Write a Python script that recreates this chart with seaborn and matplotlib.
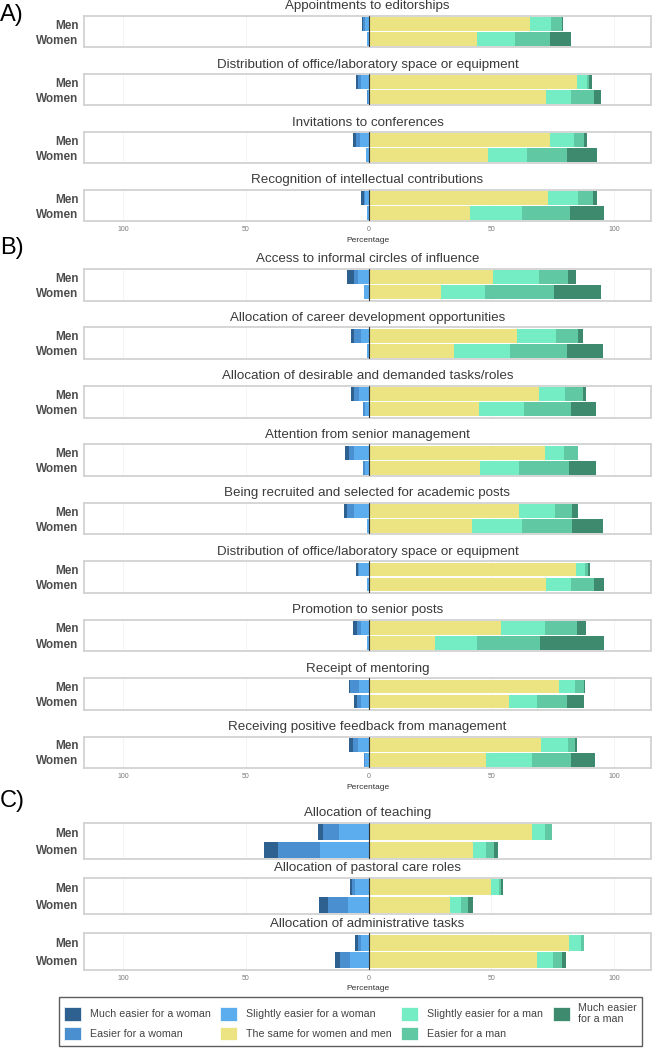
import numpy as np
import matplotlib
matplotlib.use("Agg")
import matplotlib.pyplot as plt
from matplotlib.patches import Patch
import seaborn as sns

# response levels (left = easier for a woman, right = easier for a man)
levels = ["Much easier for a woman", "Easier for a woman", "Slightly easier for a woman",
          "The same for women and men", "Slightly easier for a man", "Easier for a man",
          "Much easier\nfor a man"]
level_colors = ["#2f6190", "#4a90d0", "#5badee", "#ece482", "#74ecc4", "#60c9a4", "#3d8a6e"]
groups = ["Men", "Women"]

titles = [
    # A)
    "Appointments to editorships",
    "Distribution of office/laboratory space or equipment",
    "Invitations to conferences",
    "Recognition of intellectual contributions",
    # B)
    "Access to informal circles of influence",
    "Allocation of career development opportunities",
    "Allocation of desirable and demanded tasks/roles",
    "Attention from senior management",
    "Being recruited and selected for academic posts",
    "Distribution of office/laboratory space or equipment",
    "Promotion to senior posts",
    "Receipt of mentoring",
    "Receiving positive feedback from management",
    # C)
    "Allocation of teaching",
    "Allocation of pastoral care roles",
    "Allocation of administrative tasks",
]
section = ["A"] * 4 + ["B"] * 9 + ["C"] * 3

# percentages, one value per panel (same order as titles)
men_much_w   = [0.6, 0.8, 1.2, 1.0, 2.9, 1.2, 1.4, 1.7, 1.5, 0.6, 1.7, 0.7, 1.7, 2.0, 0.9, 1.0]
men_easier_w = [0.8, 1.0, 1.7, 0.5, 1.9, 2.7, 2.0, 2.0, 2.7, 0.6, 1.7, 3.6, 2.0, 6.5, 1.4, 1.2]
men_slight_w = [1.5, 3.3, 3.4, 1.5, 4.2, 3.2, 4.0, 5.9, 6.0, 3.9, 3.1, 3.9, 4.4, 12.3, 5.4, 3.3]
men_same     = [65.5, 84.8, 73.8, 72.9, 50.6, 60.4, 69.2, 71.7, 61.1, 84.5, 53.7, 77.4, 70.2, 66.4, 49.8, 81.6]
men_slight_m = [8.8, 4.0, 9.8, 12.2, 18.8, 15.9, 10.7, 7.7, 14.9, 3.8, 18.1, 6.8, 10.8, 5.3, 3.4, 4.7]
men_easier_m = [4.4, 1.0, 4.0, 6.1, 11.6, 9.0, 7.2, 5.7, 7.0, 1.2, 12.9, 3.6, 3.2, 2.9, 0.7, 1.6]
men_much_m   = [0.4, 1.0, 1.2, 1.7, 3.6, 1.8, 1.6, 0.3, 2.4, 0.5, 3.9, 0.3, 0.8, 0.0, 0.7, 0.0]

women_much_w   = [0.0, 0.0, 0.0, 0.0, 0.0, 0.0, 0.0, 0.0, 0.0, 0.0, 0.0, 1.0, 0.0, 5.8, 3.6, 2.0]
women_easier_w = [0.0, 0.2, 0.0, 0.3, 0.0, 0.2, 1.0, 1.0, 0.2, 0.2, 0.2, 1.5, 0.5, 16.9, 8.2, 4.4]
women_slight_w = [0.5, 0.4, 1.2, 0.5, 1.9, 0.5, 1.5, 1.5, 0.5, 0.5, 0.5, 3.3, 1.5, 20.0, 8.4, 7.5]
women_same     = [44.3, 72.3, 48.4, 41.3, 29.4, 34.9, 45.0, 45.5, 42.2, 72.3, 27.2, 57.3, 47.8, 42.3, 33.1, 68.4]
women_slight_m = [15.3, 10.2, 15.9, 21.0, 17.8, 22.8, 18.1, 15.6, 20.4, 10.2, 16.8, 11.2, 18.9, 5.3, 4.4, 6.7]
women_easier_m = [14.2, 9.1, 16.4, 19.8, 28.4, 23.0, 19.5, 20.3, 20.4, 9.2, 25.9, 12.3, 15.8, 3.3, 2.8, 3.6]
women_much_m   = [8.8, 3.0, 12.4, 13.7, 19.0, 14.6, 10.0, 11.0, 12.4, 4.0, 25.8, 7.1, 9.5, 1.7, 2.0, 1.5]

men_cols = [men_much_w, men_easier_w, men_slight_w, men_same, men_slight_m, men_easier_m, men_much_m]
women_cols = [women_much_w, women_easier_w, women_slight_w, women_same, women_slight_m, women_easier_m, women_much_m]

sns.set_theme(style="white")
plt.rcParams['font.family'] = ['Liberation Sans', 'DejaVu Sans']

W, H = 655, 1048
fig = plt.figure(figsize=(W / 100, H / 100), dpi=100)

# panel frames in pixels (top, height)
tops = [16, 74, 132, 190] + [269 + 58.45 * k for k in range(9)] + [822.7, 877.7, 933.3]
heights = [31.3] * 4 + [31.6] * 9 + [36.5] * 3
x0, x1 = 84, 651


def draw_panel(ax, i, show_x):
    men = np.array([c[i] for c in men_cols])
    women = np.array([c[i] for c in women_cols])
    vals = np.vstack([men, women])

    # right side: cumulative sums, longest drawn first so shorter ones sit on top
    cum_r = vals[:, 3:].cumsum(axis=1)
    for k in range(3, -1, -1):
        sns.barplot(x=cum_r[:, k], y=groups, color=level_colors[3 + k], orient="h",
                    width=0.92, saturation=1, linewidth=0, errorbar=None, ax=ax)
    # left side: from "slightly" outward
    cum_l = vals[:, 2::-1].cumsum(axis=1)
    for k in range(2, -1, -1):
        sns.barplot(x=-cum_l[:, k], y=groups, color=level_colors[2 - k], orient="h",
                    width=0.92, saturation=1, linewidth=0, errorbar=None, ax=ax)

    ax.axvline(0, color="#333333", lw=0.8, zorder=5)
    ax.set_xlim(-116, 115)
    ax.set_ylim(1.55, -0.55)
    ax.set_xlabel("")
    ax.set_ylabel("")
    ax.set_xticks([-100, -50, 0, 50, 100])
    ax.set_axisbelow(True)
    ax.grid(axis="x", color="#f3f3f3", lw=0.6)
    ax.tick_params(length=0, axis="y", pad=4)
    ax.tick_params(length=0, axis="x", pad=3.5, labelsize=5, labelcolor="#7a7a7a")
    for lab in ax.get_yticklabels():
        lab.set_fontweight("bold")
        lab.set_fontsize(8.5)
        lab.set_color("#4d4d4d")
    if show_x:
        ax.set_xticklabels(["100", "50", "0", "50", "100"])
        ax.set_xlabel("Percentage", fontsize=6, color="#333333", labelpad=2.5)
    else:
        ax.set_xticklabels([])
    for sp in ax.spines.values():
        sp.set_color("#d2d2d2")
        sp.set_linewidth(1.3)


for i, title in enumerate(titles):
    top, h = tops[i], heights[i]
    ax = fig.add_axes([x0 / W, 1 - (top + h) / H, (x1 - x0) / W, h / H])
    last = i == len(titles) - 1 or section[i + 1] != section[i]
    draw_panel(ax, i, last)
    ax.text(0.5, 1 + 9.5 / h, title, transform=ax.transAxes, ha="center", va="center",
            fontsize=9.6, color="#3a3a3a")

# section letters
for lab, y in [("A)", 15), ("B)", 248), ("C)", 801)]:
    fig.text(0.0, 1 - y / H, lab, ha="left", va="center", fontsize=17, color="black")

handles = [Patch(facecolor=c, edgecolor="white", linewidth=0.5) for c in level_colors]
leg = fig.legend(handles, levels, loc="center", bbox_to_anchor=(350.5 / W, 1 - 1021.5 / H),
                 ncol=4, frameon=True, fancybox=False, fontsize=7.7, handlelength=1.6,
                 handleheight=1.6, columnspacing=0.9, handletextpad=0.8, labelspacing=0.55,
                 borderpad=0.5)
leg.get_frame().set_edgecolor("#333333")
leg.get_frame().set_linewidth(1.0)
for t in leg.get_texts():
    t.set_color("#444444")

fig.savefig("out.png", dpi=100)
